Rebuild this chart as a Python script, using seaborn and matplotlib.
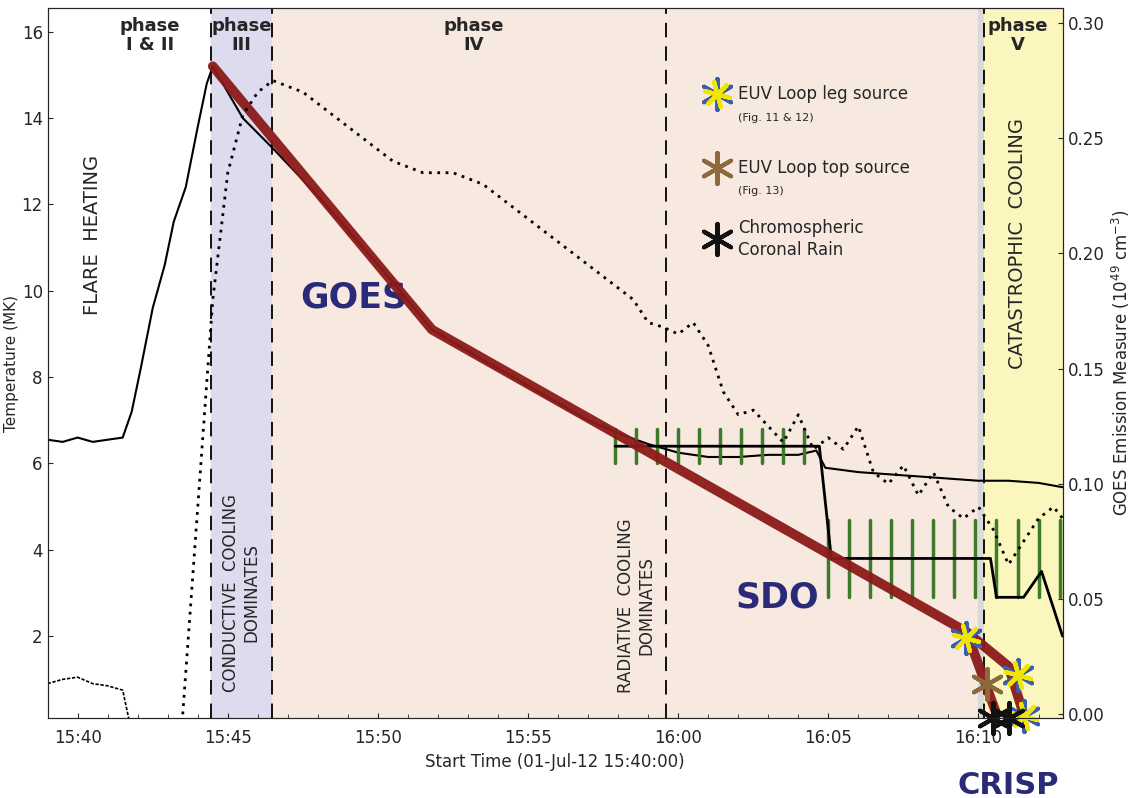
import numpy as np
import pandas as pd
import matplotlib
matplotlib.use("Agg")
import matplotlib.pyplot as plt
import seaborn as sns

sns.set_style("ticks")
plt.rcParams['font.family'] = ['DejaVu Sans']

# minutes after 15:40
goes_t = [-1, -0.5, 0, 0.5, 1, 1.5, 1.8, 2.1, 2.5, 2.9, 3.2, 3.6, 4.0, 4.3, 4.5, 5.0, 5.5, 6.5, 8.0, 9.5,
          10.5, 11.8, 13, 15, 17, 18, 19, 20, 21, 22, 23, 24, 24.6, 24.9, 26, 27, 28, 29, 30, 31, 32, 32.8]
goes_T = [6.55, 6.5, 6.6, 6.5, 6.55, 6.6, 7.2, 8.2, 9.6, 10.6, 11.6, 12.4, 13.8, 14.8, 15.2, 14.6, 14.0,
          13.3, 12.2, 11.0, 10.2, 9.1, 8.6, 7.8, 7.0, 6.7, 6.45, 6.25, 6.15, 6.15, 6.2, 6.2, 6.3, 5.9,
          5.8, 5.75, 5.7, 5.65, 5.6, 5.6, 5.55, 5.45]
pre_t = [-1, -0.5, 0, 0.5, 1, 1.5, 1.7]
pre_T = [0.9, 1.0, 1.05, 0.9, 0.85, 0.75, 0.1]

em_t = [3.5, 4.0, 4.5, 5.0, 5.5, 6.0, 6.5, 7.5, 8.5, 9.5, 10.5, 11.5, 12.5, 13.5, 14.5, 15.5, 16.5, 17.5,
        18.5, 19.0, 19.5, 20.0, 20.5, 21.0, 21.5, 22.0, 22.5, 23.0, 23.5, 24.0, 24.5, 25.0, 25.5, 26.0,
        26.5, 27.0, 27.5, 28.0, 28.5, 29.0, 29.5, 30.0, 30.5, 31.0, 31.5, 32.0, 32.5, 32.8]
em_v = [0.0, 0.09, 0.18, 0.235, 0.26, 0.27, 0.275, 0.27, 0.26, 0.25, 0.24, 0.235, 0.235, 0.23, 0.22,
        0.21, 0.20, 0.19, 0.18, 0.17, 0.168, 0.165, 0.17, 0.16, 0.14, 0.13, 0.132, 0.125, 0.118, 0.13,
        0.115, 0.12, 0.115, 0.125, 0.105, 0.10, 0.108, 0.095, 0.105, 0.09, 0.085, 0.09, 0.08, 0.065,
        0.075, 0.085, 0.09, 0.085]

sdo_t = [17.9, 24.7, 25.1, 30.4, 30.6, 31.5, 32.1, 32.8]
sdo_T = [6.4, 6.4, 3.8, 3.8, 2.9, 2.9, 3.5, 2.0]
bar_hi_t = [17.9, 18.6, 19.3, 20.0, 20.7, 21.4, 22.1, 22.8, 23.5, 24.2]
bar_lo_t = [25.0, 25.7, 26.4, 27.1, 27.8, 28.5, 29.2, 29.9, 30.6, 31.3, 32.0, 32.7]

red_t = [4.5, 11.8, 29.6, 31.0, 31.5]
red_T = [15.2, 9.1, 2.1, 1.3, 0.2]
red2_t = [29.6, 30.6]
red2_T = [2.1, 0.2]

leg_src = [(29.6, 1.95), (31.3, 1.1), (31.5, 0.15)]
top_src = [(30.3, 0.9)]
rain_src = [(30.5, 0.1), (31.0, 0.1)]

fig = plt.figure(figsize=(11.34, 7.98), dpi=100)
ax = fig.add_axes([0.042, 0.1, 0.895, 0.89])
ax.set_xlim(-1, 32.8)
ax.set_ylim(0.1, 16.55)

ax.axvspan(4.43, 6.47, color="#dcdcee", zorder=0)
ax.axvspan(6.47, 30.0, color="#f7e9df", zorder=0)
ax.axvspan(30.0, 30.2, color="#d9d9d9", zorder=0)
ax.axvspan(30.2, 32.8, color="#fbf6bd", zorder=0)
for xv in [4.43, 6.47, 19.6, 30.2]:
    ax.axvline(xv, color="black", ls=(0, (8, 5)), lw=1.3, zorder=1)

sns.lineplot(x=goes_t, y=goes_T, ax=ax, color="black", lw=1.5, zorder=3)
sns.lineplot(x=pre_t, y=pre_T, ax=ax, color="black", lw=1.2, ls=(0, (2, 1)), zorder=3)

for t in bar_hi_t:
    ax.plot([t, t], [6.0, 6.8], color="#3d7a2a", lw=2.5, zorder=4)
for t in bar_lo_t:
    ax.plot([t, t], [2.9, 4.7], color="#3d7a2a", lw=2.5, zorder=4)
ax.plot(sdo_t, sdo_T, color="black", lw=2, zorder=5)

ax.plot(red_t, red_T, color="#8b1a1a", lw=7, solid_capstyle="round", zorder=6, alpha=0.95)
ax.plot(red2_t, red2_T, color="#8b1a1a", lw=7, solid_capstyle="round", zorder=6, alpha=0.95)

def star(x, y, c1, c2=None, s=500):
    ax.scatter([x], [y], marker=(6, 2, 0), s=s, color=c1, linewidths=3, zorder=8, clip_on=False)
    if c2:
        ax.scatter([x], [y], marker=(6, 2, 15), s=s * 0.7, color=c2, linewidths=3, zorder=8, clip_on=False)

for x, y in leg_src:
    star(x, y, "#3a5fb0", "#f2e600")
for x, y in top_src:
    star(x, y, "#8c6a3c")
for x, y in rain_src:
    star(x, y, "#111111")

star(21.3, 14.55, "#3a5fb0", "#f2e600")
star(21.3, 12.85, "#8c6a3c")
star(21.3, 11.2, "#111111")
ax.text(22.0, 14.55, "EUV Loop leg source", fontsize=12, va="center")
ax.text(22.0, 14.0, "(Fig. 11 & 12)", fontsize=8, va="center")
ax.text(22.0, 12.85, "EUV Loop top source", fontsize=12, va="center")
ax.text(22.0, 12.3, "(Fig. 13)", fontsize=8, va="center")
ax.text(22.0, 11.2, "Chromospheric\nCoronal Rain", fontsize=12, va="center", linespacing=1.3)

for x, s in [(2.4, "phase\nI & II"), (5.45, "phase\nIII"), (13.2, "phase\nIV"), (31.3, "phase\nV")]:
    ax.text(x, 16.35, s, ha="center", va="top", fontsize=13, fontweight="bold", linespacing=1.1)

ax.text(0.5, 11.3, "FLARE  HEATING", rotation=90, fontsize=14, ha="center", va="center")
ax.text(5.45, 3.0, "CONDUCTIVE  COOLING\nDOMINATES", rotation=90, fontsize=12, ha="center", va="center")
ax.text(18.6, 2.7, "RADIATIVE  COOLING\nDOMINATES", rotation=90, fontsize=12, ha="center", va="center")
ax.text(31.3, 11.1, "CATASTROPHIC  COOLING", rotation=90, fontsize=14, ha="center", va="center")

navy = "#2b2a78"
ax.text(9.2, 9.85, "GOES", fontsize=25, fontweight="bold", color=navy, ha="center", va="center")
ax.text(23.3, 2.9, "SDO", fontsize=25, fontweight="bold", color=navy, ha="center", va="center")
ax.text(31.0, -1.45, "CRISP", fontsize=22, fontweight="bold", color=navy, ha="center", va="center",
        clip_on=False)

ax.set_xticks(range(0, 31, 5))
ax.set_xticklabels(["15:40", "15:45", "15:50", "15:55", "16:00", "16:05", "16:10"], fontsize=12)
ax.set_xticks(np.arange(-1, 33, 1), minor=True)
ax.set_yticks([2, 4, 6, 8, 10, 12, 14, 16])
ax.tick_params(axis="y", labelsize=12, direction="in")
ax.tick_params(axis="x", direction="in", pad=8)
ax.tick_params(which="minor", direction="in", length=3)
ax.set_ylabel("Temperature (MK)", fontsize=11)
ax.yaxis.set_label_coords(-0.028, 0.5)
ax.set_xlabel("Start Time (01-Jul-12 15:40:00)", fontsize=12)

ax2 = ax.twinx()
ax2.set_ylim(-0.0017, 0.3065)
sns.lineplot(x=em_t, y=em_v, ax=ax2, color="black", lw=2, ls=(0, (1, 2)))
ax2.set_yticks([0, 0.05, 0.10, 0.15, 0.20, 0.25, 0.30])
ax2.set_yticklabels(["0.00", "0.05", "0.10", "0.15", "0.20", "0.25", "0.30"])
ax2.tick_params(axis="y", labelsize=12, direction="in")
ax2.set_ylabel("GOES Emission Measure (10$^{49}$ cm$^{-3}$)", fontsize=12)

fig.savefig("out.png", dpi=100)
